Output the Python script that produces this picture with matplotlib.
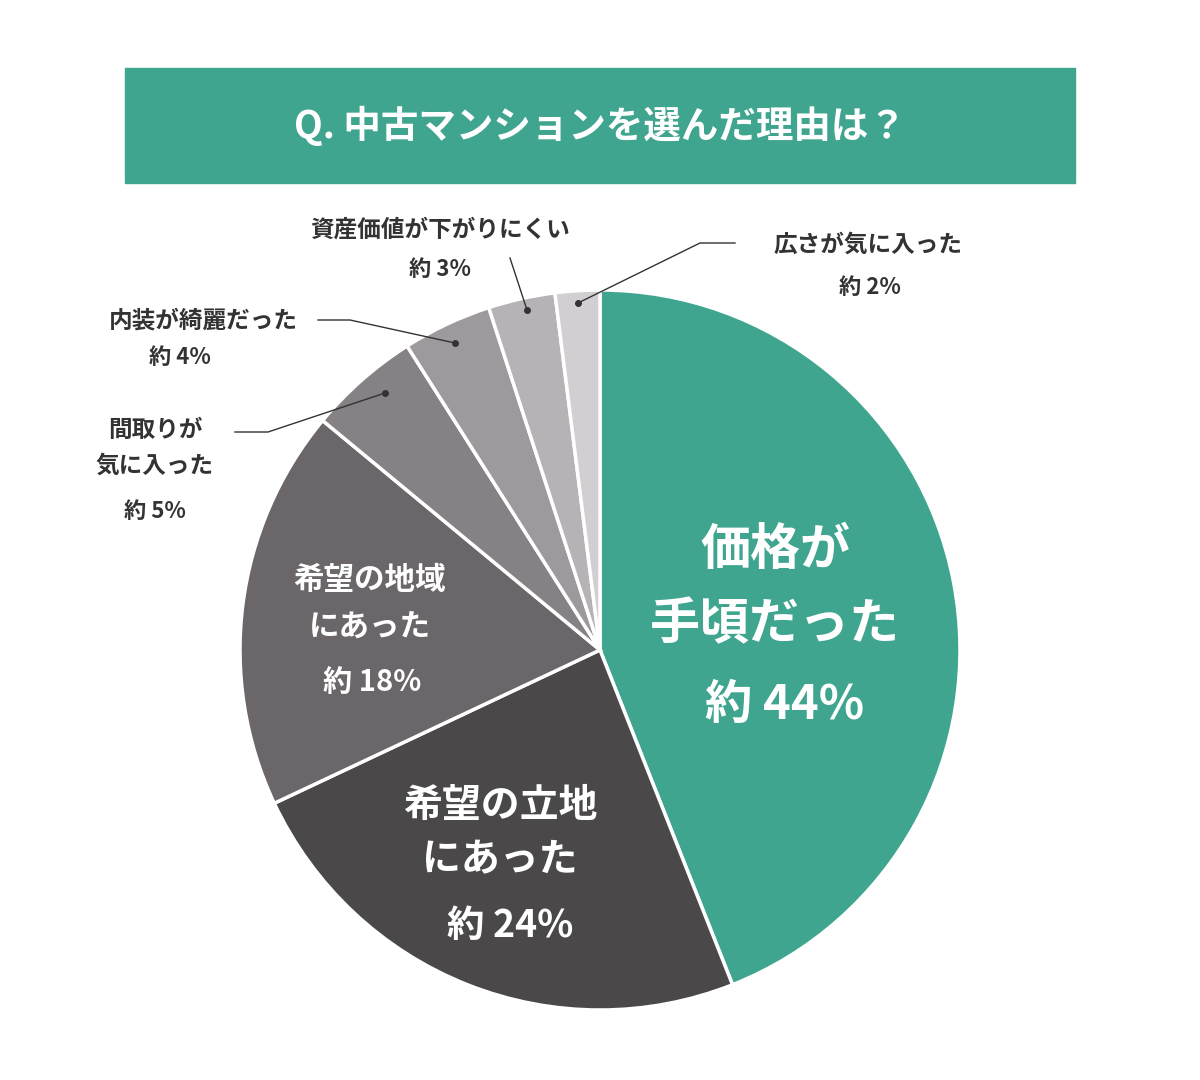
import matplotlib
matplotlib.use("Agg")
import matplotlib.pyplot as plt
from matplotlib.patches import Rectangle

labels = ["価格が手頃だった", "希望の立地にあった", "希望の地域にあった", "間取りが気に入った",
          "内装が綺麗だった", "資産価値が下がりにくい", "広さが気に入った"]
values = [44, 24, 18, 5, 4, 3, 2]
colors = ["#3fa58f", "#4b484a", "#6a6669", "#858184", "#9d999c", "#b6b2b5", "#d2cfd2"]
title = "Q. 中古マンションを選んだ理由は？"

FONT = "Noto Sans CJK JP"
H = 1080
fig = plt.figure(figsize=(12, 10.8), dpi=100)
ax = fig.add_axes([0, 0, 1, 1])
ax.set_xlim(0, 1200); ax.set_ylim(0, H); ax.set_aspect("equal"); ax.axis("off")

ax.add_patch(Rectangle((125, H - 183), 950, 115, color="#3fa58f"))
ax.text(600, H - 126, title, color="white", fontsize=27, fontweight="bold",
        family=FONT, ha="center", va="center")

ax.pie(values, colors=colors, startangle=90, counterclock=False, center=(600, H - 650),
       radius=360, wedgeprops=dict(edgecolor="white", linewidth=2.5), frame=True)
ax.set_xlim(0, 1200); ax.set_ylim(0, H); ax.axis("off")

def t(x, y, s, size, color="white", ha="center"):
    ax.text(x, H - y, s, fontsize=size, color=color, family=FONT, fontweight="bold",
            ha=ha, va="center")

t(775, 550, "価格が", 36); t(775, 625, "手頃だった", 36); t(785, 705, "約 44%", 34)
t(500, 805, "希望の立地", 28); t(500, 860, "にあった", 28); t(510, 925, "約 24%", 27)
t(370, 580, "希望の地域", 22); t(370, 628, "にあった", 22); t(372, 682, "約 18%", 21)

dk = "#333333"
t(440, 230, "資産価値が下がりにくい", 17, dk); t(440, 270, "約 3%", 16, dk)
t(868, 245, "広さが気に入った", 17, dk); t(870, 287, "約 2%", 16, dk)
t(298, 320, "内装が綺麗だった", 17, dk, ha="right"); t(180, 358, "約 4%", 16, dk)
t(155, 430, "間取りが", 17, dk); t(155, 466, "気に入った", 17, dk); t(155, 512, "約 5%", 16, dk)

def line(pts):
    ax.plot([p[0] for p in pts], [H - p[1] for p in pts], color="#333333", lw=1)
    ax.plot(pts[-1][0], H - pts[-1][1], "o", color="#333333", ms=4)

line([(735, 243), (700, 243), (578, 303)])
line([(510, 258), (527, 310)])
line([(318, 320), (350, 320), (455, 343)])
line([(235, 432), (268, 432), (385, 393)])

fig.savefig("out.png", dpi=100, facecolor="white")
